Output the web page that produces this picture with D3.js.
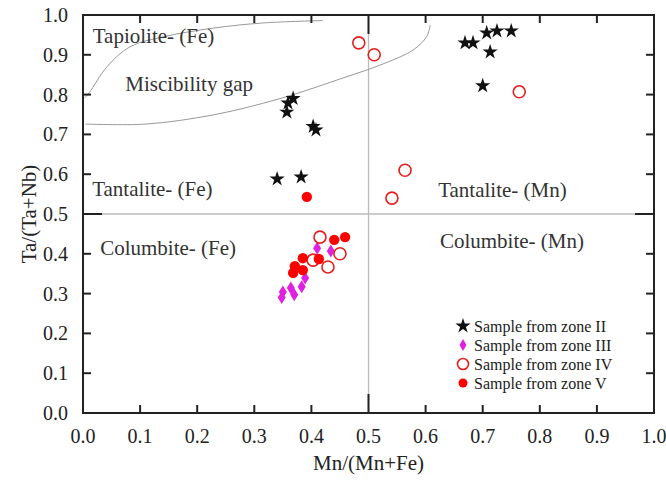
<!DOCTYPE html>
<html>
<head>
<meta charset="utf-8">
<script src="https://cdn.jsdelivr.net/npm/d3@7"></script>
<style>
  body { margin: 0; background: #fff; }
</style>
</head>
<body>
<div id="chart"></div>
<script>
// zone data
const zone2X = [0.359, 0.368, 0.357, 0.403, 0.408, 0.340, 0.382, 0.669, 0.683, 0.707, 0.725, 0.750, 0.713, 0.700];
const zone2Y = [0.779, 0.790, 0.756, 0.720, 0.711, 0.588, 0.593, 0.930, 0.930, 0.955, 0.960, 0.960, 0.907, 0.822];
const zone3X = [0.410, 0.434, 0.389, 0.383, 0.364, 0.350, 0.348, 0.370];
const zone3Y = [0.414, 0.407, 0.339, 0.317, 0.314, 0.304, 0.290, 0.297];
const zone4X = [0.483, 0.510, 0.764, 0.564, 0.541, 0.415, 0.450, 0.403, 0.429];
const zone4Y = [0.930, 0.900, 0.807, 0.610, 0.540, 0.442, 0.400, 0.384, 0.367];
const zone5X = [0.392, 0.440, 0.459, 0.385, 0.413, 0.371, 0.385, 0.368];
const zone5Y = [0.543, 0.435, 0.442, 0.389, 0.387, 0.369, 0.359, 0.352];

// miscibility gap boundary curves
const gapUpperX = [0.003, 0.011, 0.042, 0.082, 0.140, 0.228, 0.315, 0.420];
const gapUpperY = [0.792, 0.805, 0.870, 0.920, 0.945, 0.967, 0.980, 0.986];
const gapLowerX = [0.004, 0.110, 0.228, 0.345, 0.462, 0.520, 0.578, 0.602, 0.608];
const gapLowerY = [0.726, 0.726, 0.749, 0.790, 0.845, 0.874, 0.912, 0.946, 0.975];

const tickVals = [0, 0.1, 0.2, 0.3, 0.4, 0.5, 0.6, 0.7, 0.8, 0.9, 1.0];

const regionLabels = [
  {text: "Tapiolite- (Fe)", x: 0.017, y: 0.930},
  {text: "Miscibility gap", x: 0.074, y: 0.809},
  {text: "Tantalite- (Fe)", x: 0.016, y: 0.545},
  {text: "Tantalite- (Mn)", x: 0.622, y: 0.543},
  {text: "Columbite- (Fe)", x: 0.030, y: 0.397},
  {text: "Columbite- (Mn)", x: 0.625, y: 0.415}
];

const legendItems = ["Sample from zone II", "Sample from zone III", "Sample from zone IV", "Sample from zone V"];

const serif = "'Liberation Serif', 'Times New Roman', 'DejaVu Serif', serif";

const width = 666, height = 480;
const margin = {top: 15, right: 12, bottom: 67, left: 83};

const svg = d3.select("#chart").append("svg")
  .attr("width", width)
  .attr("height", height)
  .attr("font-family", serif);

const x = d3.scaleLinear().domain([0, 1]).range([margin.left, width - margin.right]);
const y = d3.scaleLinear().domain([0, 1]).range([height - margin.bottom, margin.top]);

// quadrant divider lines
svg.append("line")
  .attr("x1", x(0.5)).attr("x2", x(0.5))
  .attr("y1", y(0)).attr("y2", y(1))
  .attr("stroke", "#bbb").attr("stroke-width", 1.3);
svg.append("line")
  .attr("x1", x(0)).attr("x2", x(1))
  .attr("y1", y(0.5)).attr("y2", y(0.5))
  .attr("stroke", "#bbb").attr("stroke-width", 1.3);

// boundary curves
const curve = d3.line()
  .x(d => x(d[0]))
  .y(d => y(d[1]))
  .curve(d3.curveCatmullRom);

svg.append("path")
  .datum(gapUpperX.map((v, i) => [v, gapUpperY[i]]))
  .attr("d", curve)
  .attr("fill", "none").attr("stroke", "#999").attr("stroke-width", 1);
svg.append("path")
  .datum(gapLowerX.map((v, i) => [v, gapLowerY[i]]))
  .attr("d", curve)
  .attr("fill", "none").attr("stroke", "#999").attr("stroke-width", 1);

// axes, ticks pointing inward on all four sides
function tickLen(d) { return d === 0.5 ? 19 : 8; }

const axes = svg.append("g");
const innerTicks = tickVals.filter(d => d > 0 && d < 1);

axes.selectAll(".tb").data(innerTicks).enter().append("line")
  .attr("x1", d => x(d)).attr("x2", d => x(d))
  .attr("y1", y(0)).attr("y2", d => y(0) - tickLen(d));
axes.selectAll(".tt").data(innerTicks).enter().append("line")
  .attr("x1", d => x(d)).attr("x2", d => x(d))
  .attr("y1", y(1)).attr("y2", d => y(1) + tickLen(d));
axes.selectAll(".tl").data(innerTicks).enter().append("line")
  .attr("y1", d => y(d)).attr("y2", d => y(d))
  .attr("x1", x(0)).attr("x2", d => x(0) + tickLen(d));
axes.selectAll(".tr").data(innerTicks).enter().append("line")
  .attr("y1", d => y(d)).attr("y2", d => y(d))
  .attr("x1", x(1)).attr("x2", d => x(1) - tickLen(d));
axes.selectAll("line").attr("stroke", "#222").attr("stroke-width", 2);

axes.append("rect")
  .attr("x", x(0)).attr("y", y(1))
  .attr("width", x(1) - x(0)).attr("height", y(0) - y(1))
  .attr("fill", "none").attr("stroke", "#222").attr("stroke-width", 2);

// tick labels
svg.selectAll(".xlab").data(tickVals).enter().append("text")
  .attr("x", d => x(d))
  .attr("y", y(0) + 30)
  .attr("text-anchor", "middle")
  .attr("font-family", serif)
  .attr("font-size", 20)
  .attr("fill", "#222")
  .text(d => d.toFixed(1));

svg.selectAll(".ylab").data(tickVals).enter().append("text")
  .attr("x", x(0) - 15)
  .attr("y", d => y(d) + 7)
  .attr("text-anchor", "end")
  .attr("font-family", serif)
  .attr("font-size", 20)
  .attr("fill", "#222")
  .text(d => d.toFixed(1));

// axis titles
svg.append("text")
  .attr("x", x(0.5)).attr("y", 470)
  .attr("text-anchor", "middle")
  .attr("font-family", serif)
  .attr("font-size", 21)
  .attr("fill", "#222")
  .text("Mn/(Mn+Fe)");

svg.append("text")
  .attr("transform", `translate(36, ${y(0.5)}) rotate(-90)`)
  .attr("text-anchor", "middle")
  .attr("font-family", serif)
  .attr("font-size", 21)
  .attr("fill", "#222")
  .text("Ta/(Ta+Nb)");

// region labels
svg.selectAll(".region").data(regionLabels).enter().append("text")
  .attr("x", d => x(d.x))
  .attr("y", d => y(d.y))
  .attr("font-family", serif)
  .attr("font-size", 21)
  .attr("fill", "#333")
  .text(d => d.text);

// marker helpers
const star = d3.symbol().type(d3.symbolStar).size(72);
function diamond(w, h) {
  return `M0,${-h / 2}L${w / 2},0L0,${h / 2}L${-w / 2},0Z`;
}

const marks = svg.append("g");

marks.selectAll(".z2").data(zone2X).enter().append("path")
  .attr("d", star)
  .attr("transform", (d, i) => `translate(${x(d)},${y(zone2Y[i])})`)
  .attr("fill", "#111");

marks.selectAll(".z3").data(zone3X).enter().append("path")
  .attr("d", diamond(8, 13))
  .attr("transform", (d, i) => `translate(${x(d)},${y(zone3Y[i])})`)
  .attr("fill", "#e020e0");

marks.selectAll(".z4").data(zone4X).enter().append("circle")
  .attr("cx", d => x(d))
  .attr("cy", (d, i) => y(zone4Y[i]))
  .attr("r", 6)
  .attr("fill", "#fff")
  .attr("stroke", "#e41e1e").attr("stroke-width", 1.6);

marks.selectAll(".z5").data(zone5X).enter().append("circle")
  .attr("cx", d => x(d))
  .attr("cy", (d, i) => y(zone5Y[i]))
  .attr("r", 5.2)
  .attr("fill", "#f00");

// legend
const legend = svg.append("g").attr("transform", "translate(463, 326)");
const rowH = 19;
legend.append("path").attr("d", star).attr("fill", "#111");
legend.append("path").attr("d", diamond(7, 12)).attr("transform", `translate(0,${rowH})`).attr("fill", "#e020e0");
legend.append("circle").attr("cy", rowH * 2).attr("r", 5.5)
  .attr("fill", "#fff").attr("stroke", "#e41e1e").attr("stroke-width", 1.6);
legend.append("circle").attr("cy", rowH * 3).attr("r", 4.5).attr("fill", "#f00");

legend.selectAll("text").data(legendItems).enter().append("text")
  .attr("x", 11)
  .attr("y", (d, i) => i * rowH + 6)
  .attr("font-family", serif)
  .attr("font-size", 16)
  .attr("fill", "#222")
  .text(d => d);
</script>
</body>
</html>
